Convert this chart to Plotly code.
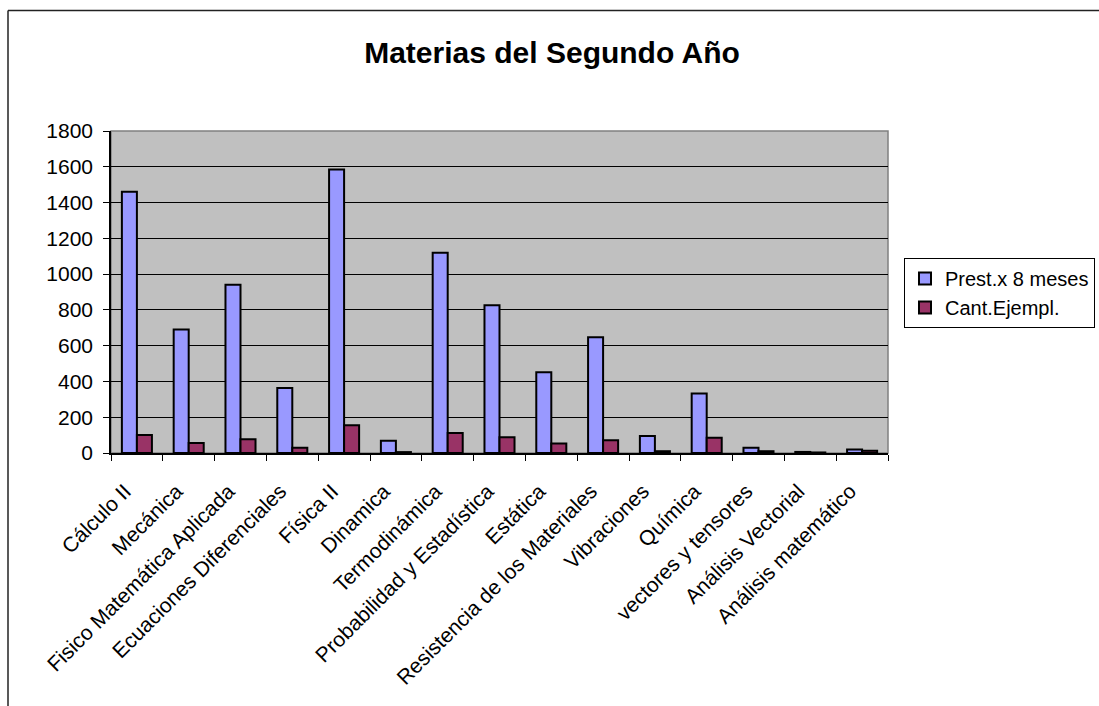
import plotly.graph_objects as go

categories = ["Cálculo II", "Mecánica", "Fisico Matemática Aplicada", "Ecuaciones Diferenciales",
              "Física II", "Dinamica", "Termodinámica", "Probabilidad y Estadística", "Estática",
              "Resistencia de los Materiales", "Vibraciones", "Química", "vectores y tensores",
              "Análisis Vectorial", "Análisis matemático"]
prest = [1460, 690, 940, 364, 1585, 68, 1120, 826, 452, 647, 95, 333, 30, 6, 20]
cant = [100, 56, 77, 30, 155, 5, 112, 88, 53, 71, 10, 85, 10, 3, 12]
series_names = ["Prest.x 8 meses", "Cant.Ejempl."]
yticks = [0, 200, 400, 600, 800, 1000, 1200, 1400, 1600, 1800]

W, H = 1099, 706
L, R, T, B = 111, 888, 131, 453

fig = go.Figure()
fig.add_trace(go.Bar(x=categories, y=prest, name=series_names[0], legendgroup="a",
                     marker=dict(color="#9999FF", line=dict(color="black", width=2))))
fig.add_trace(go.Bar(x=categories, y=cant, name=series_names[1], legendgroup="b",
                     marker=dict(color="#993366", line=dict(color="black", width=2))))

def px(x):
    return (x - L) / (R - L)

def py(y):
    return (B - y) / (B - T)

shapes = [
    dict(type="rect", xref="paper", yref="paper", x0=0, x1=1, y0=0, y1=1,
         line=dict(color="#808080", width=1.5), layer="below"),
    dict(type="line", xref="paper", yref="paper", x0=px(8), x1=px(W + 5), y0=py(10.5), y1=py(10.5),
         line=dict(color="#222222", width=1.5)),
    dict(type="line", xref="paper", yref="paper", x0=px(8), x1=px(8), y0=py(10.5), y1=py(H + 5),
         line=dict(color="#222222", width=1.5)),
]

fig.update_layout(
    width=W, height=H,
    margin=dict(l=L, r=W - R, t=T, b=H - B, autoexpand=False),
    paper_bgcolor="white", plot_bgcolor="#C0C0C0",
    font=dict(family="Liberation Sans, Arial, sans-serif", size=21, color="black"),
    title=dict(text="<b>Materias del Segundo Año</b>", x=552 / W, xref="container", xanchor="center",
               y=1 - 52 / H, yref="container", yanchor="middle",
               font=dict(size=30, family="Liberation Sans, Arial, sans-serif")),
    barmode="group", bargap=0.42, bargroupgap=0,
    showlegend=True,
    legend=dict(x=px(904), y=py(258), xanchor="left", yanchor="top",
                bordercolor="black", borderwidth=1, bgcolor="white",
                font=dict(size=20), tracegroupgap=8, traceorder="normal"),
    xaxis=dict(showline=True, linecolor="black", linewidth=1.5, ticks="outside",
               tickson="boundaries", ticklen=6, tickcolor="black", tickangle=-45,
               ticklabelshift=-12, ticklabelstandoff=16,
               showgrid=False, tickfont=dict(size=21)),
    yaxis=dict(range=[0, 1800], tickvals=yticks, showline=True, linecolor="black", linewidth=1.5,
               ticks="outside", ticklen=6, tickcolor="black", showgrid=True,
               ticklabelstandoff=6,
               gridcolor="black", gridwidth=1, zeroline=False, tickfont=dict(size=21)),
    shapes=shapes,
)

fig.write_html("out.html")
